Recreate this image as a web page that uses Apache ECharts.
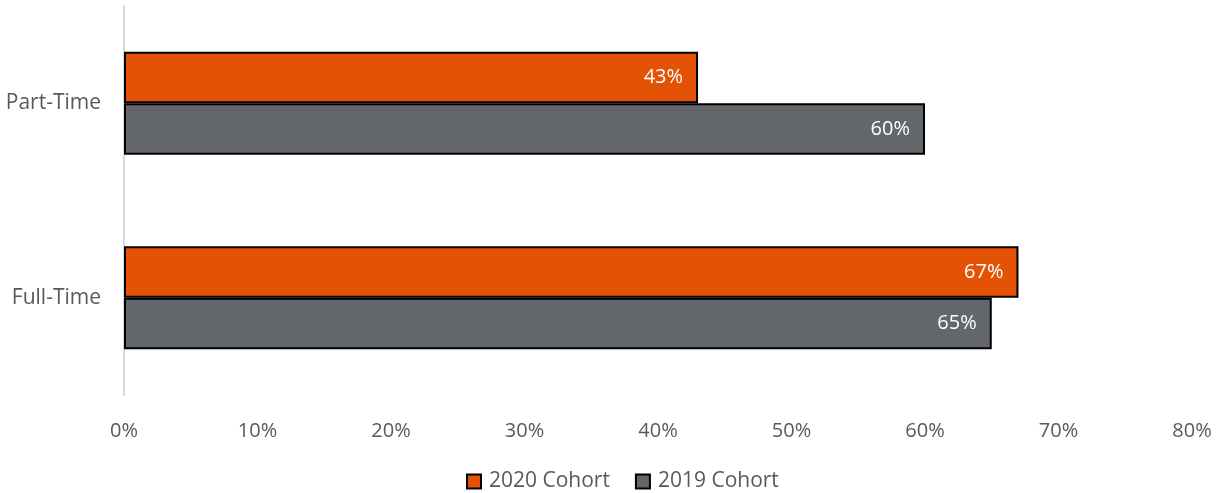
<!DOCTYPE html>
<html>
<head>
<meta charset="utf-8">
<script src="https://cdn.jsdelivr.net/npm/echarts@6/dist/echarts.min.js"></script>
<style>
  html, body { margin: 0; padding: 0; background: #fff; }
  #chart { width: 1225px; height: 493px; }
</style>
</head>
<body>
<div id="chart"></div>
<script>
// categories bottom -> top (ECharts category y axis starts at bottom)
var categories = ['Full-Time', 'Part-Time'];
var cohort2019 = [65, 60];
var cohort2020 = [67, 43];
var xTicks = [0, 10, 20, 30, 40, 50, 60, 70, 80];

var font = '"Open Sans", Lato, sans-serif';

var chart = echarts.init(document.getElementById('chart'), null, { renderer: 'canvas' });

function barLabel() {
  return {
    show: true,
    position: 'insideRight',
    distance: 15,
    formatter: '{c}%',
    color: '#fff',
    fontSize: 20,
    fontFamily: font
  };
}

var option = {
  animation: false,
  textStyle: { fontFamily: font },
  grid: { left: 124, right: 33, top: 6, bottom: 98 },
  legend: {
    data: ['2020 Cohort', '2019 Cohort'],
    top: 466,
    left: 461,
    itemWidth: 14,
    itemHeight: 14,
    itemGap: 25,
    icon: 'rect',
    textStyle: { fontSize: 21, color: '#595959', fontFamily: font, padding: [0, 0, 0, 3] }
  },
  xAxis: {
    type: 'value',
    min: xTicks[0],
    max: xTicks[xTicks.length - 1],
    interval: 10,
    axisLine: { show: false },
    axisTick: { show: false },
    splitLine: { show: false },
    axisLabel: {
      formatter: '{value}%',
      fontSize: 20,
      color: '#595959',
      margin: 26
    }
  },
  yAxis: {
    type: 'category',
    data: categories,
    axisLine: { show: true, lineStyle: { color: '#d9d9d9', width: 2 } },
    axisTick: { show: false },
    axisLabel: { fontSize: 21, color: '#595959', margin: 23 }
  },
  series: [
    {
      name: '2020 Cohort',
      type: 'bar',
      data: cohort2020,
      barGap: '0%',
      barCategoryGap: '47%',
      itemStyle: { color: '#e35205', borderColor: '#000', borderWidth: 2 },
      label: barLabel()
    },
    {
      name: '2019 Cohort',
      type: 'bar',
      data: cohort2019,
      barGap: '0%',
      barCategoryGap: '47%',
      itemStyle: { color: '#63666a', borderColor: '#000', borderWidth: 2 },
      label: barLabel()
    }
  ]
};

chart.setOption(option);
</script>
</body>
</html>
